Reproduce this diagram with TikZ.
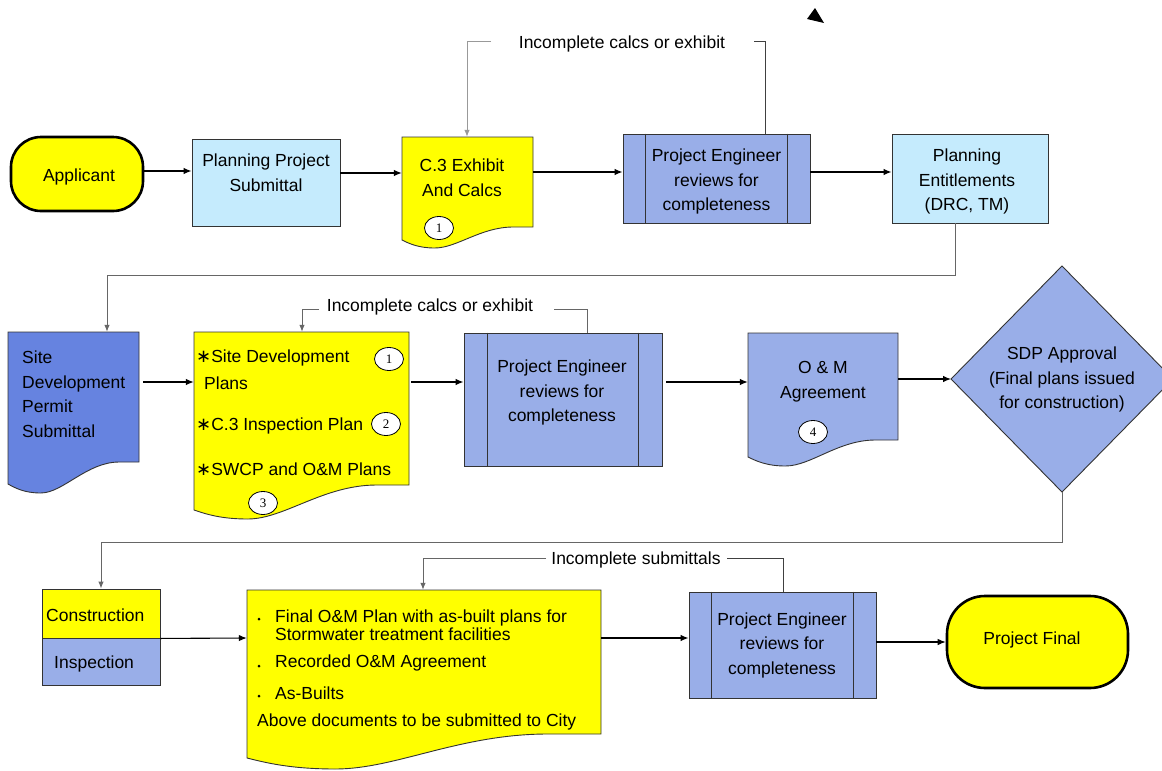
\documentclass[tikz,border=0pt]{standalone}
\usepackage{fontspec}
\setmainfont{Liberation Sans}
\newfontfamily\numfont{Liberation Serif}
\newfontfamily\symfont{DejaVu Sans}
\usetikzlibrary{arrows.meta,shapes.geometric}
\definecolor{ylw}{HTML}{FFFF00}
\definecolor{lblue}{HTML}{C5EBFD}
\definecolor{peri}{HTML}{99AEE8}
\definecolor{sblue}{HTML}{6683E0}
\newcommand{\myast}{{\symfont\fontsize{18}{18}\selectfont ∗}}
\newcommand{\docpath}[7]{%
  \pgfmathsetmacro{\mydw}{#4-#2}%
  \path[#1] (#2,#3) -- (#4,#3) -- (#4,#5) -- ({#4-0.15*\mydw},#5)
    .. controls ({#2+0.6*\mydw},#5) and ({#2+0.42*\mydw},#7) .. ({#2+0.25*\mydw},#7)
    .. controls ({#2+0.12*\mydw},#7) and ({#2+0.05*\mydw},{#6+0.4*(#7-#6)}) .. (#2,#6) -- cycle;}
\begin{document}
\begin{tikzpicture}[x=1pt,y=-1pt,
  every node/.style={font=\fontsize{17.5}{24.5}\selectfont, inner sep=0pt},
  lbl/.style={align=center},
  outl/.style={draw=black!80, line width=0.9pt},
  term/.style={draw=black, line width=2.6pt, fill=ylw},
  arr/.style={-{Latex[length=8pt,width=6.5pt]}, line width=1.1pt, draw=black},
  link/.style={line width=1pt, draw=black!60},
  linkl/.style={line width=1pt, draw=black!40},
  linkd/.style={line width=1pt, draw=black!75},
  larr/.style={-{Latex[length=7pt,width=5.5pt]}},
  numc/.style={ellipse, draw=black, line width=0.8pt, fill=white, minimum width=29pt, minimum height=23pt, inner sep=0pt, font=\numfont\fontsize{13}{13}\selectfont}]
\useasboundingbox (0,0) rectangle (1162,771);
\clip (0,0) rectangle (1162,771);
\fill[white] (0,0) rectangle (1162,771);

% stray arrowhead
\fill[black] (815,8) -- (807,19) -- (824,23) -- cycle;

% ---------- Row 1 ----------
\node[term, rounded corners=30pt, minimum width=132pt, minimum height=74pt] (app) at (77,174) {};
\node (appt) at (79,177) {Applicant};

\node[outl, fill=lblue, minimum width=148pt, minimum height=87pt] (pps) at (266,182.5) {};
\node[lbl] (ppst) at (266,172.5) {Planning Project\\Submittal};

\docpath{outl, fill=ylw}{402}{137}{533}{227}{240}{248}
\node[minimum width=131pt, minimum height=103pt] (c3) at (467.5,188.5) {};
\node[lbl] (c3t) at (462,177.5) {C.3 Exhibit\\And Calcs};
\node[numc] (c3n) at (439,228) {1};

\node[outl, fill=peri, minimum width=187pt, minimum height=89pt] (pe1) at (716.5,178.5) {};
\draw[outl] ([xshift=23pt]pe1.north west) -- ([xshift=23pt]pe1.south west);
\draw[outl] ([xshift=-23pt]pe1.north east) -- ([xshift=-23pt]pe1.south east);
\node[lbl] (pe1t) at (716.5,181.5) {Project Engineer\\reviews for\\completeness};

\node[outl, fill=lblue, minimum width=156pt, minimum height=89pt] (pent) at (970,178.5) {};
\node[lbl] (pentt) at (967,181.5) {Planning\\Entitlements\\(DRC, TM)};

% loop 1
\node (l1) at (622,44) {Incomplete calcs or exhibit};
\coordinate (l1r) at (754,41);
\coordinate (l1l) at (491,41);
\draw[linkd] (pe1.north -| 765,0) |- (l1r);
\draw[linkl, larr] (l1l) -| (c3.north -| 467,0);

% row1 arrows
\draw[arr] (app.east |- 0,171) -- (pps.west |- 0,171);
\draw[arr] (pps.east |- 0,173) -- (c3.west |- 0,173);
\draw[arr] (c3.east |- 0,172) -- (pe1.west |- 0,172);
\draw[arr] (pe1.east |- 0,172) -- (pent.west |- 0,172);

% ---------- Row 2 ----------
\docpath{outl, fill=sblue}{8}{332}{139}{462}{484}{493}
\node[minimum width=131pt, minimum height=152pt] (site) at (73.5,408) {};
\node[align=left, anchor=west] (sitet) at (22,394) {Site\\Development\\Permit\\Submittal};

\docpath{outl, fill=ylw}{194}{332}{409}{485}{510}{519}
\node[minimum width=215pt, minimum height=178pt] (sdp) at (301.5,421) {};
\node[anchor=west] (sdp1) at (196,358) {\myast Site Development};
\node[anchor=west] (sdp1b) at (204,383) {Plans};
\node[anchor=west] (sdp2) at (196,426) {\myast C.3 Inspection Plan};
\node[anchor=west] (sdp3) at (196,469) {\myast SWCP and O\&M Plans};
\node[numc] (sdpn1) at (389,359) {1};
\node[numc] (sdpn2) at (386,424) {2};
\node[numc] (sdpn3) at (263,503) {3};

\node[outl, fill=peri, minimum width=198pt, minimum height=133pt] (pe2) at (563,399.5) {};
\draw[outl] ([xshift=24pt]pe2.north west) -- ([xshift=24pt]pe2.south west);
\draw[outl] ([xshift=-24pt]pe2.north east) -- ([xshift=-24pt]pe2.south east);
\node[lbl] (pe2t) at (562,392.5) {Project Engineer\\reviews for\\completeness};

\docpath{outl, fill=peri}{748}{333}{898}{440}{457}{466}
\node[minimum width=150pt, minimum height=124pt] (om) at (823,395) {};
\node[lbl] (omt) at (823,381.5) {O \& M\\Agreement};
\node[numc] (omn) at (813,432) {4};

\coordinate (dl) at (951,379);
\coordinate (dt) at (1062,266);
\coordinate (dr) at (1173,379);
\coordinate (db) at (1062,492);
\draw[outl, fill=peri] (dl) -- (dt) -- (dr) -- (db) -- cycle;
\node[lbl] (dtx) at (1062,379.5) {SDP Approval\\(Final plans issued\\for construction)};

% loop 2
\node (l2) at (430,307) {Incomplete calcs or exhibit};
\coordinate (l2r) at (554,309);
\coordinate (l2l) at (319,309);
\draw[link] (pe2.north -| 587,0) |- (l2r);
\draw[link, larr] (l2l) -| (sdp.north -| 302,0);

% pent to site
\draw[link, larr] (pent.south -| 955,0) |- (107,275) -- (site.north -| 107,0);

% row2 arrows
\draw[arr] (143,382) -- (sdp.west |- 0,382);
\draw[arr] (sdp.east |- 0,382) ++(2,0) -- (pe2.west |- 0,382);
\draw[arr] (pe2.east |- 0,382) ++(4,0) -- (om.west |- 0,382);
\draw[arr] (om.east |- 0,379) -- (dl);

% ---------- Row 3 ----------
\node[outl, fill=ylw, minimum width=118pt, minimum height=49pt] (cons) at (101,613.5) {};
\node[outl, fill=peri, minimum width=118pt, minimum height=47pt] (insp) at (101,661.5) {};
\node[anchor=west] (const) at (46,615) {Construction};
\node[anchor=west] (inspt) at (54,664) {Inspection};

\draw[link, larr] (db) |- (101,542) -- (cons.north);

\docpath{outl, fill=ylw}{247}{590}{601}{734}{758}{769}
\node[minimum width=354pt, minimum height=168pt] (fdoc) at (424,674) {};
\fill (259,619) circle (1.5pt);
\fill (259,666) circle (1.5pt);
\fill (259,696) circle (1.5pt);
\node[anchor=west, align=left, font=\fontsize{17.5}{18}\selectfont] (f1) at (275,625) {Final O\&M Plan with as-built plans for\\Stormwater treatment facilities};
\node[anchor=west] (f2) at (275,663) {Recorded O\&M Agreement};
\node[anchor=west] (f3) at (275,693) {As-Builts};
\node[anchor=west] (f4) at (257,722) {Above documents to be submitted to City};

\node[outl, fill=peri, minimum width=187pt, minimum height=106pt] (pe3) at (782.5,645) {};
\draw[outl] ([xshift=23pt]pe3.north west) -- ([xshift=23pt]pe3.south west);
\draw[outl] ([xshift=-23pt]pe3.north east) -- ([xshift=-23pt]pe3.south east);
\node[lbl] (pe3t) at (782,645) {Project Engineer\\reviews for\\completeness};

\node[term, rounded corners=38pt, minimum width=181pt, minimum height=92pt] (pf) at (1037.5,642) {};
\node (pft) at (1032,640) {Project Final};

% loop 3
\node (l3) at (636,560) {Incomplete submittals};
\coordinate (l3r) at (727,558);
\coordinate (l3l) at (546,558);
\draw[linkd] (pe3.north -| 783,0) |- (l3r);
\draw[link, larr] (l3l) -| (fdoc.north -| 423,0);

% row3 arrows
\draw[arr] (cons.south east) -- (fdoc.west |- 0,638);
\draw[arr] (fdoc.east |- 0,638) -- (pe3.west |- 0,638);
\draw[arr] (pe3.east |- 0,642) -- (pf.west);
\end{tikzpicture}
\end{document}
